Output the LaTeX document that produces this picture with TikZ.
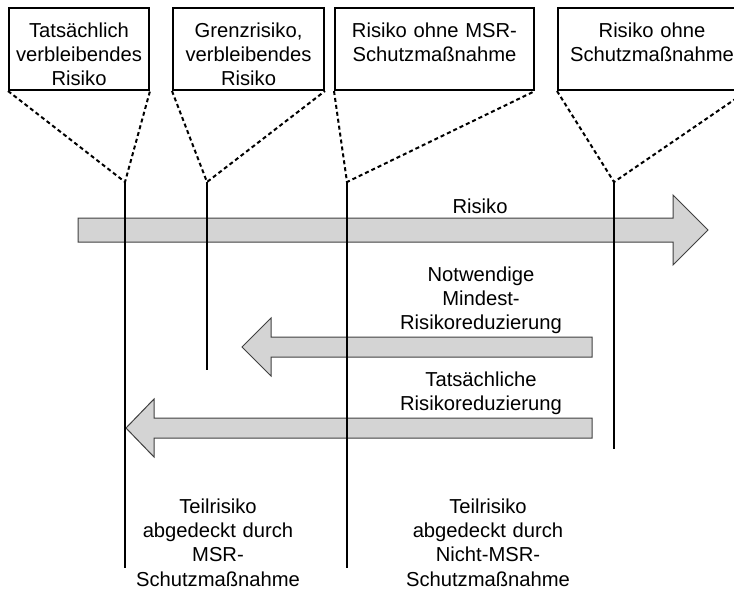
\documentclass[tikz,border=0pt]{standalone}
\usepackage{fontspec}
\setmainfont{Liberation Sans}
\usepackage{tikz}

\begin{document}
\begin{tikzpicture}[x=0.5pt, y=-0.5pt,
        every node/.style={font=\fontsize{10.1}{12.2}\selectfont},
        callout/.style={draw, line width=1pt, anchor=north west, inner sep=0pt,
                        align=center, text height=14.5pt, text depth=26.5pt},
        bandtext/.style={anchor=base, inner sep=0pt, text width=100pt, align=center},
        band/.style={draw=black!75, line width=0.5pt, fill=black!17},
        marker/.style={line width=1.2pt},
        leader/.style={dash pattern=on 2pt off 1.5pt, line width=1pt}
    ]
    \useasboundingbox (0,0) rectangle (734,590);

    % boxes on top
    \node[callout, text width=70pt]   (resid)  at (8,7)   {Tatsächlich\\verbleibendes\\Risiko};
    \node[callout, text width=75.5pt] (limit)  at (172,7) {Grenzrisiko,\\verbleibendes\\Risiko};
    \node[callout, text width=99.5pt] (nomsr)  at (334,7) {Risiko ohne MSR-\\Schutzmaßnahme};
    \node[callout, text width=94pt]   (noprot) at (557,7) {Risiko ohne\\Schutzmaßnahme};

    \coordinate (tip1) at (125,182); \coordinate (end1) at (125,568);
    \coordinate (tip2) at (207,182); \coordinate (end2) at (207,370);
    \coordinate (tip3) at (347,182); \coordinate (end3) at (347,568);
    \coordinate (tip4) at (614,182); \coordinate (end4) at (614,449);

    % broad arrows
    \draw[band] (78,218) -- (673,218) -- (673,195) -- (708,230) -- (673,265)
        -- (673,242) -- (78,242) -- cycle;
    \draw[band] (592,337) -- (271,337) -- (271,318) -- (242,347) -- (271,376)
        -- (271,357) -- (592,357) -- cycle;
    \draw[band] (592,418) -- (154,418) -- (154,399) -- (126,428) -- (154,457)
        -- (154,438) -- (592,438) -- cycle;

    \node[bandtext] (risk)   at (480,213) {Risiko};
    \node[bandtext] (minred) at (481,281) {Notwendige\\Mindest-\\Risikoreduzierung};
    \node[bandtext] (actred) at (481,386) {Tatsächliche\\Risikoreduzierung};
    \node[bandtext] (partmsr)   at (218,513) {Teilrisiko\\abgedeckt durch\\MSR-\\Schutzmaßnahme};
    \node[bandtext] (partother) at (488,513) {Teilrisiko\\abgedeckt durch\\Nicht-MSR-\\Schutzmaßnahme};

    % risk levels
    \draw[marker] (tip1) -- (end1);
    \draw[marker] (tip2) -- (end2);
    \draw[marker] (tip3) -- (end3);
    \draw[marker] (tip4) -- (end4);

    \draw[leader] (resid.south west) -- (tip1) -- (resid.south east);
    \draw[leader] (limit.south west) -- (tip2) -- (limit.south east);
    \draw[leader] (nomsr.south west) -- (tip3) -- (nomsr.south east);
    \draw[leader] (noprot.south west) -- (tip4) -- (noprot.south east);
\end{tikzpicture}
\end{document}
